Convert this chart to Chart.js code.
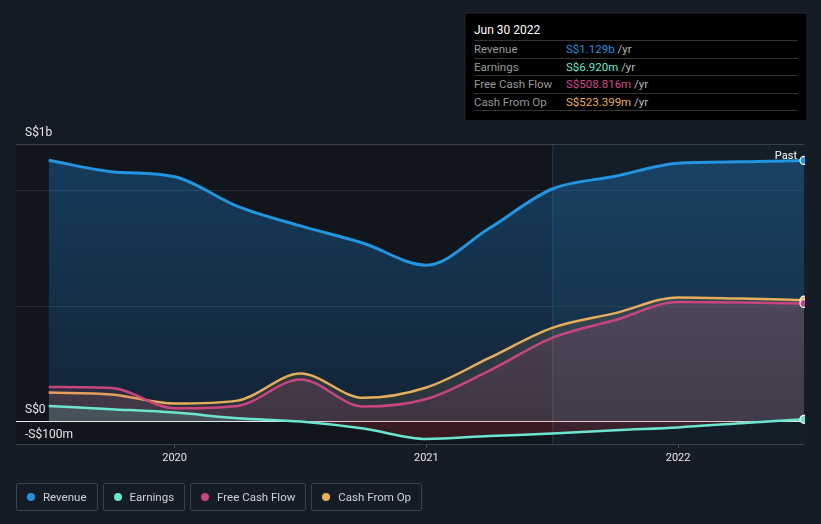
<!DOCTYPE html>
<html lang="en">
  <head>
    <meta charset="UTF-8" />
    <title>Revenue, Earnings and Cash Flow</title>
    <script src="https://cdn.jsdelivr.net/npm/chart.js"></script>
    <style>
      html, body { margin: 0; padding: 0; background: #161c26; font-family: Roboto, "Noto Sans", sans-serif; }
      #wrap { position: relative; width: 821px; height: 524px; overflow: hidden; }
      #chart { position: absolute; left: 0; top: 0; }
      #tip { position: absolute; left: 466px; top: 14px; width: 340px; height: 106px; background: #000; box-sizing: border-box; padding: 0 8px; }
      #tip .head { color: #fff; font-size: 12px; height: 26px; line-height: 33px; border-bottom: 1px solid #333; }
      #tip .row { height: 16.5px; line-height: 16px; font-size: 11.5px; border-bottom: 1px solid #333; color: #999; position: relative; }
      #tip .row .v { position: absolute; left: 92px; }
      #tip .row .u { color: #bbb; }
      #legend { position: absolute; top: 483px; left: 16px; display: flex; }
      .item { height: 26px; border: 1px solid #3a404b; border-radius: 2px; margin-right: 5px; padding: 0 10px 0 10px; display: flex; align-items: center; color: #cfd3d8; font-size: 11.5px; box-sizing: content-box; }
      .dot { width: 8px; height: 8px; border-radius: 50%; margin-right: 8px; }
    </style>
  </head>
  <body>
    <div id="wrap">
      <canvas id="chart" width="821" height="524"></canvas>
      <div id="tip">
        <div class="head">Jun 30 2022</div>
        <div class="row">Revenue<span class="v"><span style="color:#2394df">S$1.129b</span> <span class="u">/yr</span></span></div>
        <div class="row">Earnings<span class="v"><span style="color:#6ce5d0">S$6.920m</span> <span class="u">/yr</span></span></div>
        <div class="row">Free Cash Flow<span class="v"><span style="color:#d14a8b">S$508.816m</span> <span class="u">/yr</span></span></div>
        <div class="row">Cash From Op<span class="v"><span style="color:#e9ae5b">S$523.399m</span> <span class="u">/yr</span></span></div>
      </div>
      <div id="legend"></div>
    </div>
    <script>
      // quarter ends, as decimal years (Jun 2019 .. Jun 2022), values in S$m
      const quarters = [2019.5, 2019.75, 2020, 2020.25, 2020.5, 2020.75, 2021, 2021.25, 2021.5, 2021.75, 2022, 2022.25, 2022.5];
      const revenue = [1130, 1080, 1058, 930, 845, 770, 675, 835, 1005, 1060, 1117, 1123, 1129];
      const earnings = [65, 51, 36, 12, -3, -33, -78, -65, -55, -40, -28, -10, 6.92];
      const freeCashFlow = [147, 143, 55, 65, 180, 62, 95, 218, 360, 437, 515, 513, 508.816];
      const cashFromOp = [123, 115, 75, 88, 205, 100, 145, 273, 403, 467, 535, 530, 523.399];
      const yearTicks = [2020, 2021, 2022];
      const yLabels = [
        { value: 1200, text: "S$1b", dy: -11 },
        { value: 0, text: "S$0", dy: -11 },
        { value: -100, text: "-S$100m", dy: -9 },
      ];
      const pastStart = 2021.5;

      const colors = {
        revenue: "#2394df",
        earnings: "#6ce5d0",
        fcf: "#c9457f",
        cfo: "#e8ad5a",
      };

      const legendItems = [
        ["Revenue", colors.revenue],
        ["Earnings", colors.earnings],
        ["Free Cash Flow", colors.fcf],
        ["Cash From Op", colors.cfo],
      ];
      const legend = document.getElementById("legend");
      legendItems.forEach(([name, c]) => {
        const d = document.createElement("div");
        d.className = "item";
        d.innerHTML = `<span class="dot" style="background:${c}"></span>${name}`;
        legend.appendChild(d);
      });

      const toPoints = (arr) => arr.map((v, i) => ({ x: quarters[i], y: v }));
      const lastOnly = (n) => quarters.map((q, i) => (i === n - 1 ? 4 : 0));

      function vGrad(ctx, area, top, bottom) {
        if (!area) return top;
        const g = ctx.createLinearGradient(0, area.top, 0, area.bottom);
        g.addColorStop(0, top);
        g.addColorStop(1, bottom);
        return g;
      }

      const bgPlugin = {
        id: "bg",
        beforeDraw(chart) {
          const { ctx, chartArea: a, scales } = chart;
          ctx.save();
          ctx.fillStyle = "#161c26";
          ctx.fillRect(0, 0, chart.width, chart.height);
          ctx.fillStyle = "#11151c";
          ctx.fillRect(a.left, a.top, a.right - a.left, a.bottom - a.top);
          const px = scales.x.getPixelForValue(pastStart);
          ctx.fillStyle = "rgba(40,70,100,0.18)";
          ctx.fillRect(px, a.top, a.right - px, a.bottom - a.top);
          ctx.strokeStyle = "rgba(80,110,140,0.35)";
          ctx.lineWidth = 1;
          ctx.beginPath();
          ctx.moveTo(px + 0.5, a.top);
          ctx.lineTo(px + 0.5, a.bottom);
          ctx.stroke();
          ctx.restore();
        },
        beforeDatasetsDraw(chart) {
          const { ctx, chartArea: a, scales } = chart;
          const y = scales.y;
          ctx.save();
          ctx.lineWidth = 1;
          [[1000, "#262c36"], [500, "#262c36"], [1200, "#3a3f48"], [-100, "#3a3f48"]].forEach(([v, c]) => {
            const py = Math.round(y.getPixelForValue(v)) + 0.5;
            ctx.strokeStyle = c;
            ctx.beginPath();
            ctx.moveTo(a.left, py);
            ctx.lineTo(a.right, py);
            ctx.stroke();
          });
          const zy = Math.round(y.getPixelForValue(0)) + 0.5;
          ctx.strokeStyle = "#e8e8e8";
          ctx.lineWidth = 1.2;
          ctx.beginPath();
          ctx.moveTo(a.left, zy);
          ctx.lineTo(a.right, zy);
          ctx.stroke();
          ctx.restore();
        },
        afterDraw(chart) {
          const { ctx, scales, chartArea: a } = chart;
          ctx.save();
          ctx.font = "12px Roboto, sans-serif";
          ctx.fillStyle = "#e6e6e6";
          ctx.textBaseline = "middle";
          ctx.textAlign = "left";
          yLabels.forEach((l) => {
            ctx.fillText(l.text, 25, scales.y.getPixelForValue(l.value) + l.dy);
          });
          ctx.font = "11px Roboto, sans-serif";
          ctx.fillStyle = "#ffffff";
          ctx.textAlign = "right";
          ctx.fillText("Past", a.right - 7, scales.y.getPixelForValue(revenue[revenue.length - 1]) - 4);
          ctx.restore();
        },
      };

      function lineSet(label, data, color, order, width) {
        return {
          label,
          data: toPoints(data),
          borderColor: color,
          borderWidth: width,
          order,
          cubicInterpolationMode: "monotone",
          pointRadius: lastOnly(data.length),
          pointHoverRadius: 0,
          pointBackgroundColor: color,
          pointBorderColor: "#ffffff",
          pointBorderWidth: 1.2,
          clip: { left: 2, top: 5, right: 1, bottom: 5 },
        };
      }

      const ctx = document.getElementById("chart").getContext("2d");
      const chart = new Chart(ctx, {
        type: "line",
        data: {
          datasets: [
            {
              ...lineSet("Revenue", revenue, colors.revenue, 4, 3),
              fill: "origin",
              backgroundColor: (c) => vGrad(c.chart.ctx, c.chart.chartArea, "rgba(33,150,243,0.30)", "rgba(33,150,243,0.10)"),
            },
            {
              ...lineSet("Cash From Op", cashFromOp, colors.cfo, 3, 2.5),
              fill: "origin",
              backgroundColor: (c) => vGrad(c.chart.ctx, c.chart.chartArea, "rgba(232,173,90,0.18)", "rgba(232,173,90,0.10)"),
            },
            {
              ...lineSet("Free Cash Flow", freeCashFlow, colors.fcf, 2, 2.5),
              fill: "origin",
              backgroundColor: (c) => vGrad(c.chart.ctx, c.chart.chartArea, "rgba(201,69,127,0.22)", "rgba(201,69,127,0.12)"),
            },
            {
              ...lineSet("Earnings", earnings, colors.earnings, 1, 2.5),
              fill: { target: "origin", above: "rgba(108,229,208,0.16)", below: "rgba(230,47,60,0.19)" },
            },
          ],
        },
        options: {
          responsive: false,
          animation: false,
          events: [],
          layout: { padding: { left: 16, top: 144, right: 17, bottom: 0 } },
          plugins: { legend: { display: false }, tooltip: { enabled: false } },
          scales: {
            x: {
              type: "linear",
              min: 2019.37,
              max: 2022.5,
              afterBuildTicks: (s) => { s.ticks = yearTicks.map((v) => ({ value: v })); },
              afterFit: (s) => { s.height = 80; },
              ticks: { color: "#e6e6e6", font: { size: 11, family: "Roboto" }, padding: 4, callback: (v) => String(v) },
              grid: { drawOnChartArea: false, drawTicks: true, tickLength: 4, color: "#4a505a" },
              border: { display: false },
            },
            y: {
              min: -100,
              max: 1200,
              afterFit: (s) => { s.width = 0; },
              ticks: { display: false },
              grid: { display: false },
              border: { display: false },
            },
          },
        },
        plugins: [bgPlugin],
      });
    </script>
  </body>
</html>
